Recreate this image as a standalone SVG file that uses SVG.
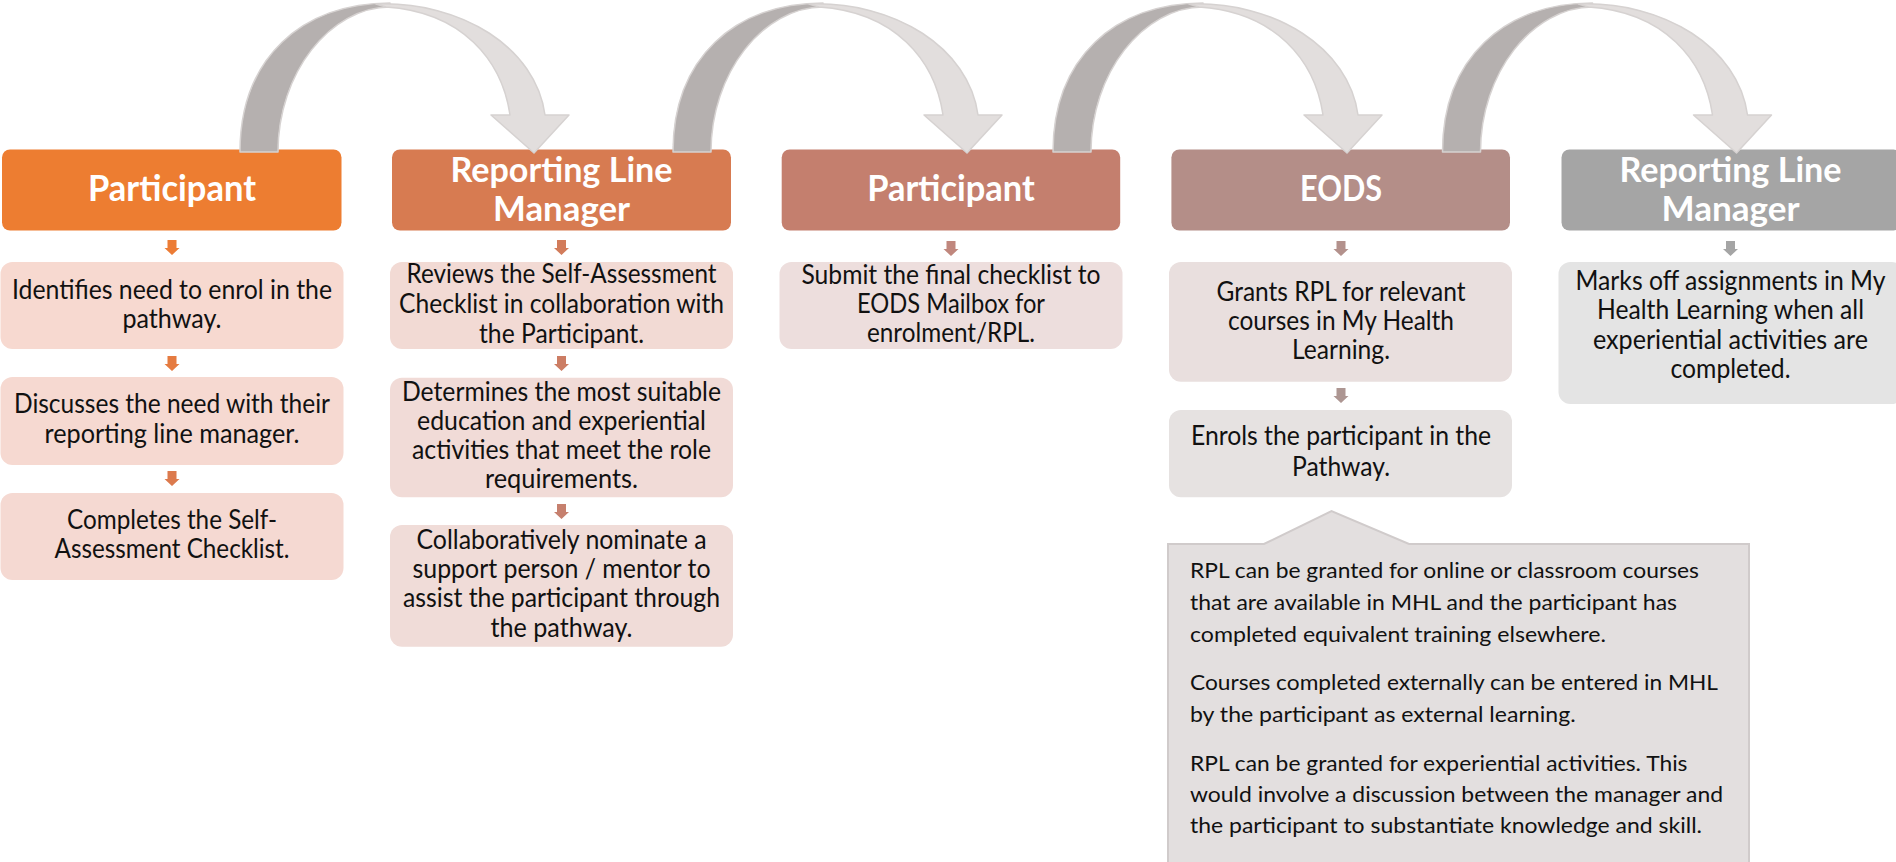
<svg xmlns="http://www.w3.org/2000/svg" xmlns:xlink="http://www.w3.org/1999/xlink" width="1896" height="862" viewBox="0 0 1896 862">
<defs>
<style>
.hdr{font-family:Lato,"Liberation Sans",sans-serif;font-weight:bold;fill:#ffffff;text-anchor:middle}
.t{font-family:Lato,"Liberation Sans",sans-serif;font-size:26px;fill:#111111;text-anchor:middle}
.c{font-family:Lato,"Liberation Sans",sans-serif;font-size:22px;fill:#111111}
.dark{fill:#B5B0AF;stroke:#D6D2D1;stroke-width:1.5;stroke-linejoin:round}
.light{fill:#E2DEDD;stroke:#D6D2D1;stroke-width:1.5;stroke-linejoin:round}
</style>
<path id="sa" d="M-4.5,0 H4.5 V8 H7.5 L0,15 L-7.5,8 H-4.5 Z"/>
<g id="curve">
<path class="dark" d="M0,152 C0,58 62,3 150,3 L150,7 C90,7 38,73 38,152 Z"/>
<path class="light" d="M136,4 C222,1 296,48 305,115 L329,115 L294,153 L251,115 L270,115 C262,60 222,12 146,7 Z"/>
</g>
</defs>
<rect width="1896" height="862" fill="#ffffff"/>

<g id="col1">
<rect x="2" y="149.5" width="339.5" height="81" rx="8" fill="#ED7D31"/>
<text class="hdr" x="172" y="201" font-size="37" textLength="168" lengthAdjust="spacingAndGlyphs">Participant</text>
<use xlink:href="#sa" transform="translate(172,240)" fill="#EC7C35"/>
<rect x="0.5" y="262" width="343" height="87" rx="12" fill="#F7D9D0"/>
<text class="t" x="172" y="299" textLength="320" lengthAdjust="spacingAndGlyphs">Identifies need to enrol in the</text>
<text class="t" x="172" y="327.5" textLength="99" lengthAdjust="spacingAndGlyphs">pathway.</text>
<use xlink:href="#sa" transform="translate(172,356)" fill="#E57B40"/>
<rect x="0.5" y="377" width="343" height="88" rx="12" fill="#F6D9D1"/>
<text class="t" x="172" y="413.3" textLength="316" lengthAdjust="spacingAndGlyphs">Discusses the need with their</text>
<text class="t" x="172" y="443" textLength="255" lengthAdjust="spacingAndGlyphs">reporting line manager.</text>
<use xlink:href="#sa" transform="translate(172,471)" fill="#DC7A4D"/>
<rect x="0.5" y="493" width="343" height="87" rx="12" fill="#F5D9D2"/>
<text class="t" x="172" y="529" textLength="210" lengthAdjust="spacingAndGlyphs">Completes the Self-</text>
<text class="t" x="172" y="558.3" textLength="235" lengthAdjust="spacingAndGlyphs">Assessment Checklist.</text>
</g>

<g id="col2">
<rect x="392" y="149.5" width="339" height="81" rx="8" fill="#D77B51"/>
<text class="hdr" x="561.5" y="181.7" font-size="35" textLength="222" lengthAdjust="spacingAndGlyphs">Reporting Line</text>
<text class="hdr" x="561.5" y="221" font-size="35" textLength="137" lengthAdjust="spacingAndGlyphs">Manager</text>
<use xlink:href="#sa" transform="translate(561.5,240)" fill="#D27C5B"/>
<rect x="390" y="262" width="343" height="87" rx="12" fill="#F2DAD4"/>
<text class="t" x="561.5" y="283.3" textLength="310" lengthAdjust="spacingAndGlyphs">Reviews the Self-Assessment</text>
<text class="t" x="561.5" y="313.3" textLength="325" lengthAdjust="spacingAndGlyphs">Checklist in collaboration with</text>
<text class="t" x="561.5" y="342.7" textLength="165" lengthAdjust="spacingAndGlyphs">the Participant.</text>
<use xlink:href="#sa" transform="translate(561.5,356)" fill="#CC7D64"/>
<rect x="390" y="377.7" width="343" height="119.6" rx="12" fill="#F1DBD7"/>
<text class="t" x="561.5" y="400.7" textLength="319" lengthAdjust="spacingAndGlyphs">Determines the most suitable</text>
<text class="t" x="561.5" y="430" textLength="289" lengthAdjust="spacingAndGlyphs">education and experiential</text>
<text class="t" x="561.5" y="459.3" textLength="299" lengthAdjust="spacingAndGlyphs">activities that meet the role</text>
<text class="t" x="561.5" y="488.3" textLength="153" lengthAdjust="spacingAndGlyphs">requirements.</text>
<use xlink:href="#sa" transform="translate(561.5,504)" fill="#C6806E"/>
<rect x="390" y="525" width="343" height="121.7" rx="12" fill="#F0DCD8"/>
<text class="t" x="561.5" y="549.3" textLength="290" lengthAdjust="spacingAndGlyphs">Collaboratively nominate a</text>
<text class="t" x="561.5" y="578.3" textLength="298" lengthAdjust="spacingAndGlyphs">support person / mentor to</text>
<text class="t" x="561.5" y="607.3" textLength="317" lengthAdjust="spacingAndGlyphs">assist the participant through</text>
<text class="t" x="561.5" y="636.7" textLength="142" lengthAdjust="spacingAndGlyphs">the pathway.</text>
</g>

<g id="col3">
<rect x="781.7" y="149.5" width="338.5" height="81" rx="8" fill="#C47F6E"/>
<text class="hdr" x="951" y="201" font-size="37" textLength="167.4" lengthAdjust="spacingAndGlyphs">Participant</text>
<use xlink:href="#sa" transform="translate(951,241)" fill="#C0877D"/>
<rect x="779.5" y="262" width="343" height="87" rx="12" fill="#EDDEDD"/>
<text class="t" x="951" y="284" textLength="299" lengthAdjust="spacingAndGlyphs">Submit the final checklist to</text>
<text class="t" x="951" y="313.3" textLength="188" lengthAdjust="spacingAndGlyphs">EODS Mailbox for</text>
<text class="t" x="951" y="342.3" textLength="168" lengthAdjust="spacingAndGlyphs">enrolment/RPL.</text>
</g>

<g id="col4">
<rect x="1171.4" y="149.5" width="338.6" height="81" rx="8" fill="#B48E88"/>
<text class="hdr" x="1341" y="201" font-size="37" textLength="82" lengthAdjust="spacingAndGlyphs">EODS</text>
<use xlink:href="#sa" transform="translate(1341,241)" fill="#B3918C"/>
<rect x="1169" y="262" width="343" height="119.7" rx="12" fill="#E9DFDE"/>
<text class="t" x="1341" y="300.7" textLength="249" lengthAdjust="spacingAndGlyphs">Grants RPL for relevant</text>
<text class="t" x="1341" y="330" textLength="226" lengthAdjust="spacingAndGlyphs">courses in My Health</text>
<text class="t" x="1341" y="359.3" textLength="98" lengthAdjust="spacingAndGlyphs">Learning.</text>
<use xlink:href="#sa" transform="translate(1341,388)" fill="#AD9692"/>
<rect x="1169" y="410" width="343" height="87.3" rx="12" fill="#E6E2E1"/>
<text class="t" x="1341" y="445" textLength="300" lengthAdjust="spacingAndGlyphs">Enrols the participant in the</text>
<text class="t" x="1341" y="475.5" textLength="98" lengthAdjust="spacingAndGlyphs">Pathway.</text>
</g>

<g id="col5">
<rect x="1561.5" y="149.5" width="340" height="81" rx="8" fill="#A5A5A5"/>
<text class="hdr" x="1730.5" y="181.7" font-size="35" textLength="222" lengthAdjust="spacingAndGlyphs">Reporting Line</text>
<text class="hdr" x="1730.5" y="221" font-size="35" textLength="138" lengthAdjust="spacingAndGlyphs">Manager</text>
<use xlink:href="#sa" transform="translate(1730.5,241)" fill="#A5A5A5"/>
<rect x="1558.5" y="262" width="345" height="142" rx="12" fill="#E4E4E4"/>
<text class="t" x="1730.5" y="290" textLength="310" lengthAdjust="spacingAndGlyphs">Marks off assignments in My</text>
<text class="t" x="1730.5" y="319.3" textLength="267" lengthAdjust="spacingAndGlyphs">Health Learning when all</text>
<text class="t" x="1730.5" y="348.7" textLength="275" lengthAdjust="spacingAndGlyphs">experiential activities are</text>
<text class="t" x="1730.5" y="377.7" textLength="120" lengthAdjust="spacingAndGlyphs">completed.</text>
</g>

<g id="callout">
<path d="M1168,544 H1264 L1331.5,511 L1409,544 H1749 V863 H1168 Z" fill="#E3DFDF" stroke="#D0CBCB" stroke-width="2"/>
<text class="c" x="1190" y="578.3" textLength="509" lengthAdjust="spacingAndGlyphs">RPL can be granted for online or classroom courses</text>
<text class="c" x="1190" y="610" textLength="487" lengthAdjust="spacingAndGlyphs">that are available in MHL and the participant has</text>
<text class="c" x="1190" y="641.7" textLength="416" lengthAdjust="spacingAndGlyphs">completed equivalent training elsewhere.</text>
<text class="c" x="1190" y="690" textLength="528" lengthAdjust="spacingAndGlyphs">Courses completed externally can be entered in MHL</text>
<text class="c" x="1190" y="721.7" textLength="385.6" lengthAdjust="spacingAndGlyphs">by the participant as external learning.</text>
<text class="c" x="1190" y="770.7" textLength="497.5" lengthAdjust="spacingAndGlyphs">RPL can be granted for experiential activities. This</text>
<text class="c" x="1190" y="801.7" textLength="533" lengthAdjust="spacingAndGlyphs">would involve a discussion between the manager and</text>
<text class="c" x="1190" y="833.3" textLength="512" lengthAdjust="spacingAndGlyphs">the participant to substantiate knowledge and skill.</text>
</g>

<g id="connectors">
<use xlink:href="#curve" transform="translate(240,0)"/>
<use xlink:href="#curve" transform="translate(673,0)"/>
<use xlink:href="#curve" transform="translate(1053,0)"/>
<use xlink:href="#curve" transform="translate(1442.5,0)"/>
</g>
</svg>
